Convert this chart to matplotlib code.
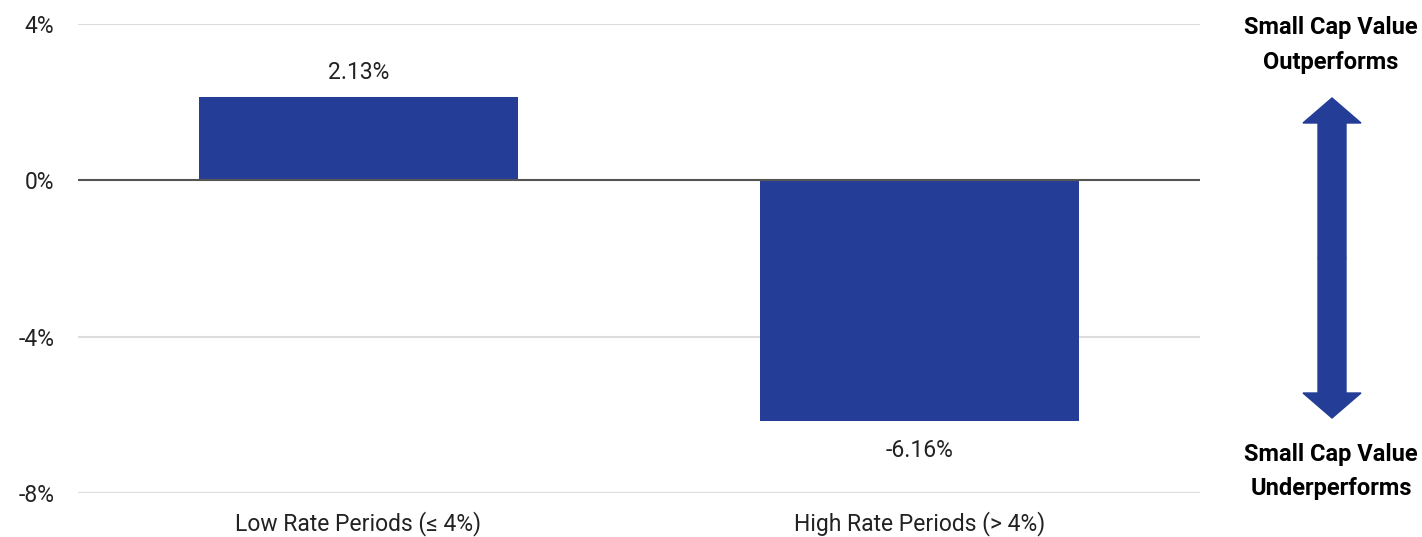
import matplotlib
matplotlib.use("Agg")
import matplotlib.pyplot as plt
from matplotlib.patches import FancyArrow

categories = ["Low Rate Periods (≤ 4%)", "High Rate Periods (> 4%)"]
values = [2.13, -6.16]
value_labels = ["2.13%", "-6.16%"]
yticks = [-8, -4, 0, 4]
ytick_labels = ["-8%", "-4%", "0%", "4%"]

bar_color = "#243e98"
text_color = "#222222"

plt.rcParams["font.family"] = ["Roboto", "DejaVu Sans"]

fig = plt.figure(figsize=(14.22, 5.37), dpi=100)
ax = fig.add_axes([78 / 1422, 1 - 493 / 537, 1122 / 1422, 469 / 537])

x = list(range(len(categories)))
ax.bar(x, values, width=0.57, color=bar_color, zorder=2)

for xi, v, lab in zip(x, values, value_labels):
    off = 0.63 if v > 0 else -0.75
    ax.text(xi, v + off, lab, ha="center", va="center", fontsize=16.5,
            color=text_color)

ax.set_xlim(-0.5, 1.5)
ax.set_ylim(-8, 4)
ax.set_yticks(yticks)
ax.set_yticklabels(ytick_labels, fontsize=16.5, color=text_color)
ax.set_xticks(x)
ax.set_xticklabels(categories, fontsize=16.5, color=text_color)
ax.tick_params(axis="y", length=0, pad=17)
ax.tick_params(axis="x", length=0, pad=13)

for t in [-8, -4, 4]:
    ax.axhline(t, color="#dddddd", lw=1.5, zorder=1)
ax.axhline(0, color="#555555", lw=1.5, zorder=3)

for s in ax.spines.values():
    s.set_visible(False)

# right-hand annotation
right_lines = [("Small Cap Value", 28), ("Outperforms", 63),
               ("Small Cap Value", 455), ("Underperforms", 489)]
for txt, ypx in right_lines:
    fig.text(1331 / 1422, 1 - ypx / 537, txt, ha="center", va="center",
             fontsize=17, fontweight="bold", color="black")

ax_x = 13.32
mid = (537 - 258) / 100
for dy in (1.6, -1.6):
    arr = FancyArrow(ax_x, mid, 0, dy, width=0.28, head_width=0.58, head_length=0.25,
                     length_includes_head=True, color=bar_color,
                     transform=fig.dpi_scale_trans)
    fig.patches.append(arr)

fig.savefig("out.png", dpi=100)
